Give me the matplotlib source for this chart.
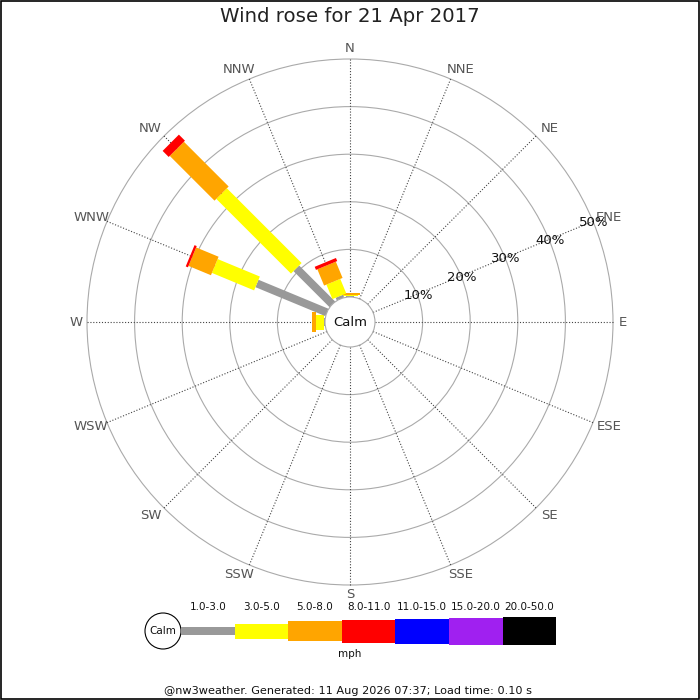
import numpy as np
import matplotlib
matplotlib.use("Agg")
import matplotlib.pyplot as plt
from matplotlib.patches import Polygon, Circle, Rectangle

# ---------------- data ----------------
title = "Wind rose for 21 Apr 2017"
directions = ["N", "NNE", "NE", "ENE", "E", "ESE", "SE", "SSE",
              "S", "SSW", "SW", "WSW", "W", "WNW", "NW", "NNW"]
speed_bands = ["1.0-3.0", "3.0-5.0", "5.0-8.0", "8.0-11.0",
               "11.0-15.0", "15.0-20.0", "20.0-50.0"]
band_colors = ["#999999", "#ffff00", "#ffa500", "#ff0000",
               "#0000ff", "#a020f0", "#000000"]
# percentage of time per speed band, for directions with wind
freq_N = [0.2, 0.3, 0.3, 0, 0, 0, 0]
freq_W = [0.15, 1.8, 0.8, 0, 0, 0, 0]
freq_WNW = [15.9, 9.6, 5.1, 0.5, 0, 0, 0]
freq_NW = [10.7, 22.2, 13.3, 1.8, 0, 0, 0]
freq_NNW = [0.6, 3.3, 3.7, 0.7, 0, 0, 0]
rose_data = {"N": freq_N, "W": freq_W, "WNW": freq_WNW,
             "NW": freq_NW, "NNW": freq_NNW}
ring_pcts = [10, 20, 30, 40, 50]
ring_labels = ["10%", "20%", "30%", "40%", "50%"]
calm_label = "Calm"
unit_label = "mph"
footer = "@nw3weather. Generated: 11 Aug 2026 07:37; Load time: 0.10 s"

# ---------------- layout / style ----------------
CX, CY = 350, 322          # rose centre (pixel coords, y downward)
CALM_R = 25                # calm circle radius
SCALE = (263 - CALM_R) / 50.0   # pixels per percent
band_widths = [8, 15, 20, 23, 25, 27, 28]
LABEL_R = 273
LABEL_DX = 6.5


def rad(p):
    return CALM_R + p * SCALE


def unit_vec(i):
    th = np.deg2rad(i * 22.5)
    return np.array([np.sin(th), -np.cos(th)]), np.array([np.cos(th), np.sin(th)])


fig = plt.figure(figsize=(7, 7), dpi=100)
ax = fig.add_axes([0, 0, 1, 1])
ax.set_xlim(0, 700)
ax.set_ylim(700, 0)
ax.axis("off")

c = np.array([CX, CY])

# rings
for p in ring_pcts:
    ax.add_patch(Circle((CX, CY), rad(p), fill=False, ec="#aaaaaa", lw=0.8, zorder=1))

# spokes and compass labels
for i, d in enumerate(directions):
    u, v = unit_vec(i)
    p0 = c + u * CALM_R
    p1 = c + u * rad(ring_pcts[-1])
    ax.plot([p0[0], p1[0]], [p0[1], p1[1]], color="#444444", lw=0.8,
            linestyle=(0, (1, 1.6)), zorder=1)
    lp = c + u * LABEL_R
    if abs(u[0]) > 0.1 and abs(u[1]) > 0.1:
        lp[0] += LABEL_DX * np.sign(u[0])
    elif u[0] < -0.9:
        lp[0] -= 1
    ax.text(lp[0], lp[1], d, ha="center", va="center", fontsize=9.5,
            color="#555555", zorder=5)

# bars
for i, d in enumerate(directions):
    if d not in rose_data:
        continue
    vals = rose_data[d]
    u, v = unit_vec(i)
    cum = 0.0
    for j, val in enumerate(vals):
        if val <= 0:
            continue
        r0, r1 = rad(cum), rad(cum + val)
        cum += val
        w = band_widths[j] / 2.0
        pts = [c + u * r0 - v * w, c + u * r1 - v * w,
               c + u * r1 + v * w, c + u * r0 + v * w]
        ax.add_patch(Polygon(pts, closed=True, fc=band_colors[j], ec="none",
                             zorder=3))

# calm circle
ax.add_patch(Circle((CX, CY), CALM_R, fc="white", ec="#aaaaaa", lw=0.8, zorder=4))
ax.text(CX, CY + 1, calm_label, ha="center", va="center", fontsize=9.5,
        color="#111111", zorder=6)

# ring labels along ENE spoke
u, v = unit_vec(directions.index("ENE"))
for p, lab in zip(ring_pcts, ring_labels):
    lp = c + u * rad(p)
    ax.text(lp[0] + 1, lp[1] + 1, lab, ha="center", va="center", fontsize=9.5,
            color="#111111", zorder=6)

# title
ax.text(350, 17, title, ha="center", va="center", fontsize=14.2, color="#222222")

# legend
LX0, LSTEP, LY = 181, 53.6, 631
ax.add_patch(Circle((163, LY), 18, fc="white", ec="black", lw=0.8))
ax.text(163, LY + 0.5, calm_label, ha="center", va="center", fontsize=7.5, color="#111111")
for j, lab in enumerate(speed_bands):
    x0 = LX0 + j * LSTEP
    h = band_widths[j]
    ax.add_patch(Rectangle((x0, LY - h / 2.0), LSTEP, h, fc=band_colors[j], ec="none"))
    ax.text(x0 + LSTEP / 2.0, 607, lab, ha="center", va="center", fontsize=7.5,
            color="#111111")
ax.text(350, 654, unit_label, ha="center", va="center", fontsize=7.5, color="#111111")

# footer
ax.text(348, 691, footer, ha="center", va="center", fontsize=8.1, color="#111111")

# border
ax.add_patch(Rectangle((0.5, 0.5), 698.5, 698.5, fill=False, ec="black", lw=1.2,
                       clip_on=False))

fig.savefig("out.png", dpi=100)
